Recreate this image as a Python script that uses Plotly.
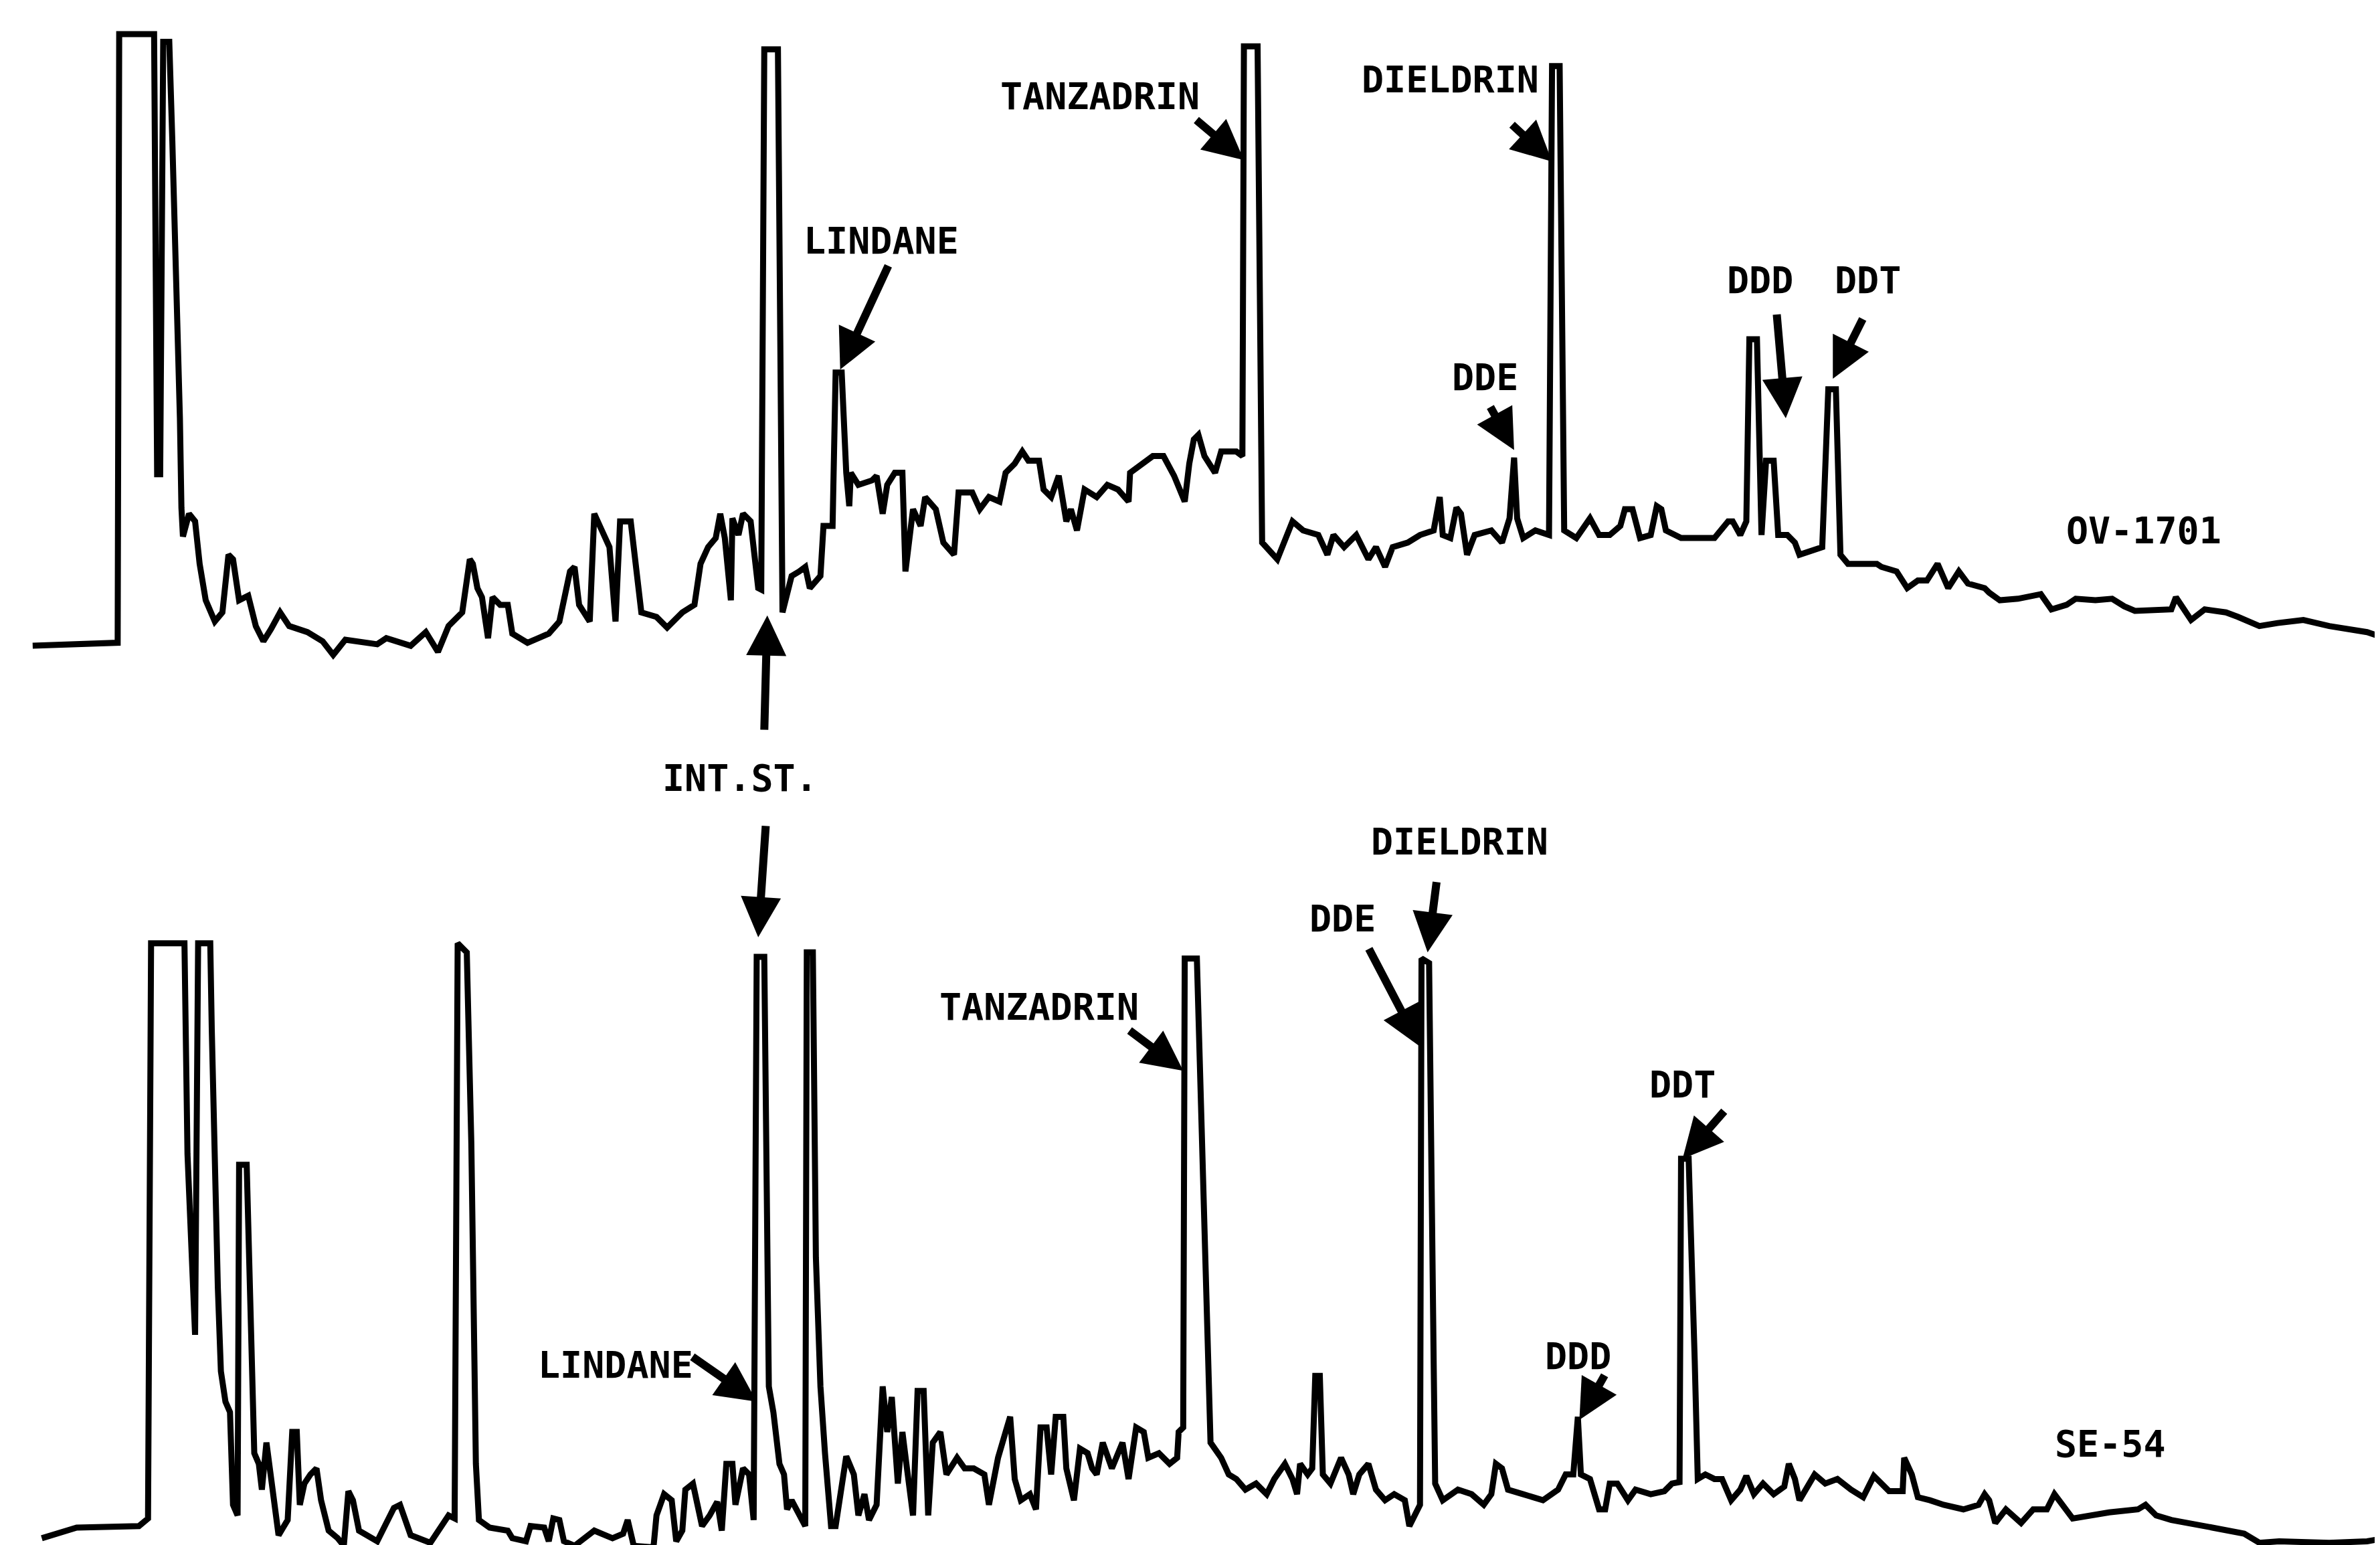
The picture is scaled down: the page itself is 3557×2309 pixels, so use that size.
import plotly.graph_objects as go

# ---------------- data ----------------
# OV-1701 column chromatogram (retention position, detector response)
rt_ov = [18, 70, 74, 75, 98, 100, 102, 104, 108, 110, 112, 114, 115, 116, 117, 121, 125, 128, 132, 138,
         143, 147, 150, 154, 160, 165, 170, 175, 181, 187, 199, 209, 216, 224, 245, 251, 260, 267, 277, 285,
         292, 301, 306, 308, 311, 314, 318, 321, 326, 331, 334, 344, 351, 358, 365, 372, 375, 378, 385, 388,
         393, 398, 402, 405, 412, 415, 419, 429, 436, 446, 454, 458, 463, 468, 471, 474, 478, 479, 483, 486,
         491, 496, 498, 500, 509, 512, 518, 523, 527, 530, 537, 539, 545, 547, 551, 554, 556, 557, 562, 571,
         574, 578, 581, 586, 591, 593, 598, 603, 606, 613, 618, 625, 628, 637, 642, 648, 655, 659, 665, 670,
         674, 681, 684, 689, 694, 699, 702, 706, 711, 719, 726, 733, 740, 741, 751, 756, 763, 770, 777, 780,
         783, 786, 790, 797, 801, 811, 815, 816, 825, 828, 838, 848, 855, 865, 871, 875, 882, 890, 898, 903,
         909, 914, 924, 932, 941, 945, 947, 952, 956, 959, 963, 968, 979, 986, 991, 994, 996, 1000, 1008, 1017,
         1019, 1024, 1027, 1035, 1044, 1050, 1057, 1064, 1067, 1072, 1077, 1084, 1088, 1091, 1094, 1104, 1118, 1126, 1135, 1138,
         1143, 1147, 1149, 1154, 1157, 1160, 1165, 1168, 1174, 1179, 1182, 1189, 1197, 1201, 1206, 1209, 1214, 1223, 1233, 1236,
         1246, 1253, 1260, 1266, 1273, 1280, 1287, 1293, 1304, 1307, 1314, 1326, 1341, 1348, 1358, 1364, 1377, 1388, 1396, 1403,
         1427, 1430, 1435, 1440, 1449, 1463, 1471, 1485, 1497, 1514, 1531, 1543, 1556, 1568]
resp_ov = [8, 9, 10, 411, 411, 121, 121, 406, 406, 341, 272, 226, 158, 99, 80, 95, 90, 62, 38, 24,
           30, 68, 65, 38, 41, 21, 11, 19, 30, 21, 17, 11, 2, 12, 9, 13, 10, 8, 17, 4,
           21, 30, 65, 62, 46, 40, 13, 40, 35, 35, 16, 10, 13, 16, 24, 57, 60, 35, 24, 95,
           84, 73, 24, 90, 90, 60, 30, 27, 20, 30, 35, 62, 73, 79, 95, 79, 38, 92, 81, 95,
           90, 46, 45, 401, 401, 30, 54, 57, 60, 46, 54, 87, 87, 188, 188, 122, 100, 122, 114, 117,
           120, 95, 114, 122, 122, 57, 98, 87, 106, 98, 76, 68, 109, 109, 98, 106, 103, 122, 128, 136,
           130, 130, 111, 106, 120, 90, 98, 84, 111, 106, 114, 111, 103, 122, 130, 133, 133, 120, 103, 128,
           144, 147, 133, 122, 136, 136, 133, 403, 403, 76, 65, 90, 84, 81, 68, 81, 73, 81, 65, 73,
           60, 73, 76, 81, 84, 106, 81, 79, 99, 95, 68, 81, 84, 76, 92, 132, 92, 79, 84, 81,
           390, 390, 84, 79, 92, 81, 81, 87, 98, 98, 79, 81, 100, 98, 84, 79, 79, 79, 90, 90,
           81, 90, 210, 210, 81, 130, 130, 81, 81, 76, 68, 70, 73, 177, 177, 68, 62, 62, 62, 60,
           57, 46, 51, 51, 62, 46, 57, 49, 46, 43, 38, 39, 42, 32, 35, 39, 38, 39, 34, 31,
           32, 40, 32, 25, 32, 30, 27, 21, 23, 25, 21, 19, 17, 13]

# SE-54 column chromatogram
rt_se = [24, 47, 88, 94, 96, 118, 120, 125, 127, 135, 136, 137, 138, 140, 142, 145, 148, 150, 153, 154,
         159, 162, 164, 167, 169, 172, 175, 180, 186, 189, 192, 194, 197, 201, 205, 208, 213, 219, 223, 226,
         229, 233, 245, 250, 256, 260, 267, 280, 292, 296, 298, 304, 307, 310, 312, 319, 331, 334, 343, 346,
         355, 358, 361, 365, 368, 375, 382, 388, 400, 407, 410, 414, 427, 429, 434, 439, 442, 446, 448, 453,
         456, 459, 464, 469, 472, 475, 479, 481, 486, 490, 493, 495, 500, 503, 506, 510, 513, 515, 518, 523,
         527, 528, 532, 534, 537, 540, 544, 547, 554, 559, 562, 566, 569, 574, 578, 581, 584, 588, 591, 594,
         598, 601, 605, 608, 611, 616, 620, 627, 632, 638, 645, 648, 654, 659, 662, 665, 669, 675, 679, 682,
         686, 689, 692, 697, 699, 704, 708, 713, 716, 719, 723, 729, 736, 740, 745, 750, 753, 760, 767, 772,
         773, 776, 777, 785, 790, 794, 801, 806, 811, 817, 824, 831, 836, 843, 848, 851, 853, 858, 861, 863,
         866, 868, 873, 880, 885, 888, 892, 898, 903, 909, 915, 922, 925, 929, 932, 933, 938, 941, 942, 947,
         957, 966, 974, 979, 982, 986, 990, 1000, 1013, 1023, 1028, 1033, 1036, 1038, 1044, 1050, 1054, 1057, 1062, 1069,
         1074, 1084, 1093, 1098, 1103, 1104, 1109, 1113, 1115, 1120, 1126, 1131, 1137, 1143, 1147, 1152, 1158, 1165, 1172, 1175,
         1179, 1182, 1189, 1192, 1199, 1207, 1216, 1224, 1231, 1241, 1250, 1251, 1256, 1260, 1268, 1277, 1290, 1300, 1304, 1307,
         1311, 1318, 1328, 1336, 1345, 1350, 1362, 1386, 1405, 1410, 1417, 1427, 1454, 1475, 1485, 1498, 1531, 1556, 1568]
resp_se = [8, 15, 16, 21, 400, 400, 261, 142, 400, 400, 343, 295, 234, 173, 118, 98, 91, 30, 23, 254,
           254, 132, 64, 57, 40, 71, 47, 10, 20, 78, 78, 30, 44, 50, 54, 33, 13, 8, 3, 39,
           33, 13, 6, 16, 28, 30, 10, 5, 23, 21, 400, 394, 268, 57, 20, 15, 13, 8, 6, 16,
           15, 6, 21, 20, 6, 3, 8, 13, 8, 11, 20, 3, 2, 23, 37, 33, 6, 13, 40, 44,
           30, 16, 23, 32, 13, 57, 57, 30, 54, 50, 20, 391, 391, 108, 91, 57, 50, 27, 33, 23,
           16, 394, 394, 193, 108, 64, 16, 16, 62, 50, 23, 37, 20, 30, 108, 78, 101, 44, 78, 54,
           23, 105, 105, 23, 71, 78, 50, 61, 54, 54, 50, 30, 61, 78, 88, 47, 33, 37, 27, 81,
           81, 50, 88, 88, 54, 33, 67, 64, 54, 50, 71, 54, 71, 47, 81, 78, 61, 64, 57, 61,
           78, 81, 390, 390, 193, 71, 61, 50, 47, 40, 44, 37, 47, 57, 47, 37, 57, 50, 54, 115,
           115, 50, 44, 61, 50, 37, 50, 57, 40, 33, 37, 33, 16, 23, 30, 390, 387, 125, 44, 33,
           40, 37, 30, 37, 57, 54, 40, 37, 33, 40, 50, 50, 88, 50, 47, 27, 27, 44, 44, 33,
           40, 37, 39, 44, 45, 258, 258, 125, 47, 50, 47, 47, 33, 40, 49, 37, 44, 37, 42, 57,
           47, 33, 44, 50, 44, 47, 40, 35, 49, 39, 39, 61, 50, 35, 33, 30, 27, 30, 37, 33,
           18, 27, 18, 27, 27, 37, 21, 25, 27, 30, 23, 20, 15, 11, 5, 6, 5, 6, 8]

# labels: (text, text position, arrow tail, arrow head)
labels_ov = [
    ("LINDANE",   (577, 275), (582, 259), (550, 190)),
    ("TANZADRIN", (721, 370), (784, 355), (816, 328)),
    ("DIELDRIN",  (952, 381), (992, 352), (1019, 327)),
    ("DDE",       (975, 185), (978, 166), (994, 137)),
    ("DDD",       (1156, 249), (1167, 227), (1173, 158)),
    ("DDT",       (1227, 249), (1224, 224), (1204, 184)),
]
labels_se = [
    ("LINDANE",   (402, 122), (452, 128), (495, 98)),
    ("TANZADRIN", (681, 358), (740, 343), (776, 316)),
    ("DDE",       (881, 416), (898, 397), (932, 332)),
    ("DIELDRIN",  (958, 467), (943, 441), (937, 394)),
    ("DDD",       (1036, 128), (1054, 116), (1037, 86)),
    ("DDT",       (1105, 307), (1133, 290), (1105, 258)),
]
column_ov = ("OV-1701", (1409, 84))
column_se = ("SE-54", (1387, 70))
int_std = "INT.ST."

# ---------------- figure ----------------
W, H = 3557, 2309
FONT = dict(family="DejaVu Sans Mono", size=55, color="black", weight="bold")
ARW = dict(showarrow=True, arrowhead=2, arrowsize=1.0, arrowwidth=12,
           arrowcolor="black", text="", standoff=0, startstandoff=0)

fig = go.Figure()
fig.add_trace(go.Scatter(x=rt_ov, y=resp_ov, mode="lines", yaxis="y",
                         line=dict(color="black", width=9), showlegend=False, hoverinfo="skip"))
fig.add_trace(go.Scatter(x=rt_se, y=resp_se, mode="lines", yaxis="y2",
                         line=dict(color="black", width=9), showlegend=False, hoverinfo="skip"))

ann = []
for yref, labels in (("y", labels_ov), ("y2", labels_se)):
    for text, (tx, ty), (ax_, ay_), (hx, hy) in labels:
        ann.append(dict(x=tx, y=ty, xref="x", yref=yref, text=text, showarrow=False,
                        font=FONT, xanchor="center", yanchor="middle"))
        ann.append(dict(x=hx, y=hy, xref="x", yref=yref, ax=ax_, ay=ay_,
                        axref="x", ayref=yref, **ARW))

ann.append(dict(x=column_ov[1][0], y=column_ov[1][1], xref="x", yref="y", text=column_ov[0],
                showarrow=False, font=FONT, xanchor="center", yanchor="middle"))
ann.append(dict(x=column_se[1][0], y=column_se[1][1], xref="x", yref="y2", text=column_se[0],
                showarrow=False, font=FONT, xanchor="center", yanchor="middle"))
# internal standard marker between the two chromatograms
ann.append(dict(x=484, y=0.5, xref="x", yref="paper", text=int_std, showarrow=False,
                font=FONT, xanchor="center", yanchor="middle"))
ann.append(dict(x=502, y=28, xref="x", yref="y", ax=500, ay=-48, axref="x", ayref="y", **ARW))
ann.append(dict(x=496, y=404, xref="x", yref="y2", ax=501, ay=478, axref="x", ayref="y2", **ARW))

fig.update_layout(
    width=W, height=H, autosize=False,
    margin=dict(l=0, r=0, t=0, b=0),
    paper_bgcolor="white", plot_bgcolor="white",
    xaxis=dict(range=[0, 1568], domain=[0, 1], visible=False, anchor="y2"),
    yaxis=dict(range=[-10, 430], domain=[0.5678, 1.0], visible=False, anchor="x"),
    yaxis2=dict(range=[0, 538], domain=[0.0, 0.5285], visible=False, anchor="x"),
    annotations=ann,
)

fig.write_html("out.html")
